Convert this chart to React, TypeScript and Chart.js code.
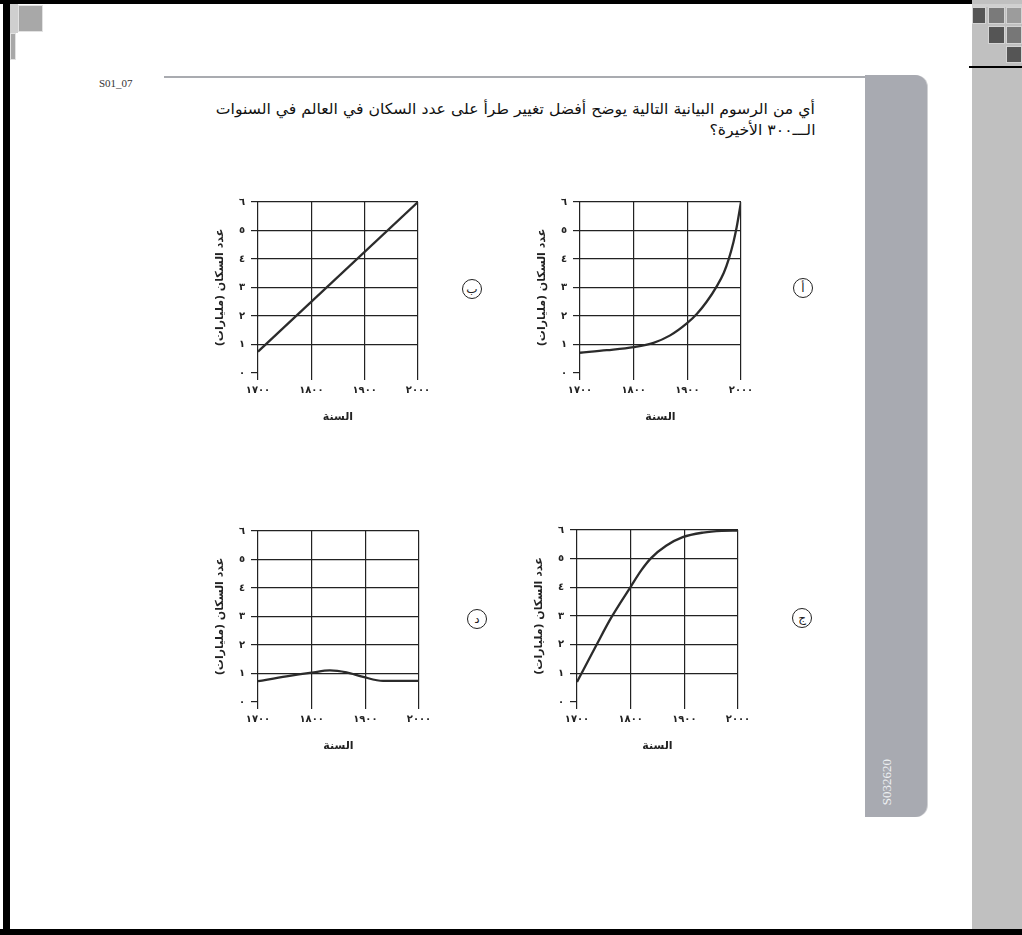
import React, { useEffect, useLayoutEffect, useRef, useState } from "react";
import { Chart, registerables } from "chart.js";

Chart.register(...registerables);

// ---------- data ----------
const yearTicks = [1700, 1800, 1900, 2000];
const popTicks = [0, 1, 2, 3, 4, 5, 6];
const arabicDigits = ["٠", "١", "٢", "٣", "٤", "٥", "٦", "٧", "٨", "٩"];

// أ : exponential growth
const yearsA = [1700, 1750, 1800, 1837, 1868, 1899, 1918, 1936, 1955, 1968, 1977, 1986, 1992, 2000];
const popA = [0.71, 0.8, 0.91, 1.06, 1.32, 1.74, 2.08, 2.5, 3.05, 3.52, 3.99, 4.6, 5.12, 6.0];
// ب : straight line
const yearsB = [1700, 2000];
const popB = [0.75, 6.0];
// ج : saturating growth
const yearsC = [1700, 1736, 1764, 1800, 1820, 1838, 1866, 1897, 1935, 1970, 2000];
const popC = [0.7, 1.98, 2.95, 4.02, 4.6, 5.02, 5.45, 5.75, 5.91, 5.97, 5.98];
// د : almost flat
const yearsD = [1700, 1753, 1800, 1834, 1865, 1896, 1933, 2000];
const popD = [0.73, 0.9, 1.03, 1.11, 1.04, 0.88, 0.74, 0.74];

const xTitle = "السنة";
const yTitle = "عدد السكان (مليارات)";
const questionLine1 = "أي من الرسوم البيانية التالية يوضح أفضل تغيير طرأ على عدد السكان في العالم في السنوات";
const questionLine2 = "الـــ٣٠٠ الأخيرة؟";
const itemCode = "S01_07";
const sideCode = "S032620";
const optionLetters = ["أ", "ب", "ج", "د"];

// ---------- helpers ----------
const toArabic = (v: number | string) =>
  String(v).replace(/\d/g, (d) => arabicDigits[Number(d)]);

const AXW = 60; // forced y-axis width
const AXH = 55; // forced x-axis height
const PADT = 17;
const PADR = 22;
const INK = "#222";
const ARABIC_FONT = "'DejaVu Sans', sans-serif";

type PlotRect = { l: number; t: number; w: number; h: number };

function MiniChart({ years, pop, rect }: { years: number[]; pop: number[]; rect: PlotRect }) {
  const ref = useRef<HTMLCanvasElement | null>(null);
  const width = AXW + rect.w + PADR;
  const height = PADT + rect.h + AXH;

  useEffect(() => {
    if (!ref.current) return;
    const tickFont = { family: ARABIC_FONT, size: 10, weight: "bold" as const };
    const titleFont = { family: ARABIC_FONT, size: 11, weight: "bold" as const };
    const chart = new Chart(ref.current, {
      type: "line",
      data: {
        datasets: [
          {
            data: years.map((x, i) => ({ x, y: pop[i] })),
            borderColor: "#2b2b2b",
            borderWidth: 2.3,
            pointRadius: 0,
            fill: false,
            cubicInterpolationMode: "monotone",
          },
        ],
      },
      options: {
        responsive: false,
        animation: false,
        devicePixelRatio: 1,
        layout: { padding: { left: 0, top: PADT, right: PADR, bottom: 0 } },
        plugins: { legend: { display: false }, tooltip: { enabled: false } },
        scales: {
          x: {
            type: "linear",
            min: 1700,
            max: 2000,
            afterBuildTicks: (s: any) => {
              s.ticks = yearTicks.map((v) => ({ value: v }));
            },
            afterFit: (s: any) => {
              s.height = AXH;
            },
            ticks: {
              callback: (v: any) => toArabic(v),
              font: tickFont,
              color: INK,
              padding: 4,
              maxRotation: 0,
              autoSkip: false,
            },
            grid: { color: INK, lineWidth: 1.2, tickLength: 7, tickColor: INK, tickWidth: 1.2 },
            border: { display: false },
            title: {
              display: true,
              text: xTitle,
              font: titleFont,
              color: INK,
              padding: { top: 0, bottom: 4 },
            },
          },
          y: {
            type: "linear",
            min: 0,
            max: 6,
            afterBuildTicks: (s: any) => {
              s.ticks = popTicks.map((v) => ({ value: v }));
            },
            afterFit: (s: any) => {
              s.width = AXW;
            },
            ticks: {
              callback: (v: any) => toArabic(v),
              font: tickFont,
              color: INK,
              padding: 6,
            },
            grid: {
              color: (c: any) => (c.tick && c.tick.value === 0 ? "rgba(0,0,0,0)" : INK),
              lineWidth: 1.2,
              tickLength: 7,
              tickColor: INK,
              tickWidth: 1.2,
            },
            border: { display: false },
            title: {
              display: true,
              text: yTitle,
              font: titleFont,
              color: INK,
              padding: { top: 16, bottom: 0 },
            },
          },
        },
      },
    } as any);
    return () => chart.destroy();
  }, [years, pop, rect]);

  return (
    <canvas
      ref={ref}
      width={width}
      height={height}
      style={{
        position: "absolute",
        left: rect.l - AXW,
        top: rect.t - PADT,
        width,
        height,
      }}
    />
  );
}

function OptionCircle({ cx, cy, letter }: { cx: number; cy: number; letter: string }) {
  const d = 20;
  return (
    <div
      style={{
        position: "absolute",
        left: cx - d / 2,
        top: cy - d / 2,
        width: d,
        height: d,
        boxSizing: "border-box",
        border: "1.5px solid #222",
        borderRadius: "50%",
        display: "flex",
        alignItems: "center",
        justifyContent: "center",
        fontFamily: ARABIC_FONT,
        fontSize: 12,
        color: "#222",
        lineHeight: 1,
      }}
    >
      {letter}
    </div>
  );
}

const box = (l: number, t: number, w: number, h: number, bg: string, extra: any = {}) => (
  <div style={{ position: "absolute", left: l, top: t, width: w, height: h, background: bg, ...extra }} />
);

export default function App() {
  const line1Ref = useRef<HTMLDivElement | null>(null);
  const [scale, setScale] = useState(1);

  useLayoutEffect(() => {
    if (line1Ref.current) {
      const w = line1Ref.current.getBoundingClientRect().width;
      if (w > 0) setScale(599 / w);
    }
  }, []);

  const rectA: PlotRect = { l: 580, t: 202, w: 161, h: 171 };
  const rectB: PlotRect = { l: 258, t: 202, w: 160, h: 171 };
  const rectC: PlotRect = { l: 577, t: 530, w: 161, h: 172 };
  const rectD: PlotRect = { l: 258, t: 531, w: 161, h: 171 };

  const textLine = (top: number, text: string, r?: any) => (
    <div
      ref={r}
      dir="rtl"
      style={{
        position: "absolute",
        right: 1022 - 815,
        top,
        whiteSpace: "nowrap",
        fontFamily: ARABIC_FONT,
        fontSize: 15,
        lineHeight: "18px",
        color: "#111",
        transform: `scaleX(${scale})`,
        transformOrigin: "right center",
      }}
    >
      {text}
    </div>
  );

  return (
    <div
      style={{
        position: "absolute",
        left: 0,
        top: 0,
        width: 1022,
        height: 935,
        background: "#fff",
        overflow: "hidden",
      }}
    >
      {/* page frame */}
      {box(0, 0, 972, 4, "#000")}
      {box(3, 0, 7, 935, "#000")}
      {box(0, 929, 1022, 6, "#000")}
      {/* right grey strip */}
      {box(972, 0, 50, 929, "#c0c0c0")}
      {box(972, 4, 50, 3, "#d0d0d0")}
      {box(972, 7, 14, 17, "#555", { border: "1px solid #d4d4d4", boxSizing: "border-box" })}
      {box(988, 7, 17, 17, "#7a7a7a", { border: "1px solid #d4d4d4", boxSizing: "border-box" })}
      {box(1006, 7, 16, 17, "#9c9c9c", { border: "1px solid #d4d4d4", boxSizing: "border-box" })}
      {box(988, 26, 17, 18, "#555", { border: "1px solid #d4d4d4", boxSizing: "border-box" })}
      {box(1006, 26, 16, 18, "#777", { border: "1px solid #d4d4d4", boxSizing: "border-box" })}
      {box(1006, 46, 16, 17, "#555", { border: "1px solid #d4d4d4", boxSizing: "border-box" })}
      {box(969, 66, 53, 2, "#000")}
      {/* top-left squares */}
      {box(10, 4, 8, 29, "#cfcfcf")}
      {box(18, 5, 25, 27, "#a8a8a8", { border: "1px solid #e2e2e2", boxSizing: "border-box" })}
      {box(10, 33, 6, 27, "#a8a8a8", { border: "1px solid #e2e2e2", boxSizing: "border-box" })}

      {/* header */}
      <div
        style={{
          position: "absolute",
          left: 99,
          top: 77,
          fontFamily: "'Liberation Serif', serif",
          fontSize: 11,
          lineHeight: "12px",
          color: "#333",
        }}
      >
        {itemCode}
      </div>
      {box(164, 76, 702, 1.5, "#a9abb0")}
      {/* side tab */}
      <div
        style={{
          position: "absolute",
          left: 865,
          top: 75,
          width: 62,
          height: 742,
          background: "#a8aab1",
          borderRadius: "0 12px 12px 0",
          boxShadow: "1px 0 0 #d0d1d4",
        }}
      />
      <div
        style={{
          position: "absolute",
          left: 887 - 40,
          top: 782 - 8,
          width: 80,
          height: 16,
          lineHeight: "16px",
          textAlign: "center",
          fontFamily: "'Liberation Serif', serif",
          fontSize: 13,
          color: "#eef0f3",
          transform: "rotate(-90deg)",
        }}
      >
        {sideCode}
      </div>

      {/* question */}
      {textLine(100, questionLine1, line1Ref)}
      {textLine(121, questionLine2)}

      {/* charts */}
      <MiniChart years={yearsA} pop={popA} rect={rectA} />
      <MiniChart years={yearsB} pop={popB} rect={rectB} />
      <MiniChart years={yearsC} pop={popC} rect={rectC} />
      <MiniChart years={yearsD} pop={popD} rect={rectD} />

      <OptionCircle cx={803} cy={288} letter={optionLetters[0]} />
      <OptionCircle cx={472} cy={289} letter={optionLetters[1]} />
      <OptionCircle cx={802} cy={618} letter={optionLetters[2]} />
      <OptionCircle cx={477} cy={619} letter={optionLetters[3]} />
    </div>
  );
}
